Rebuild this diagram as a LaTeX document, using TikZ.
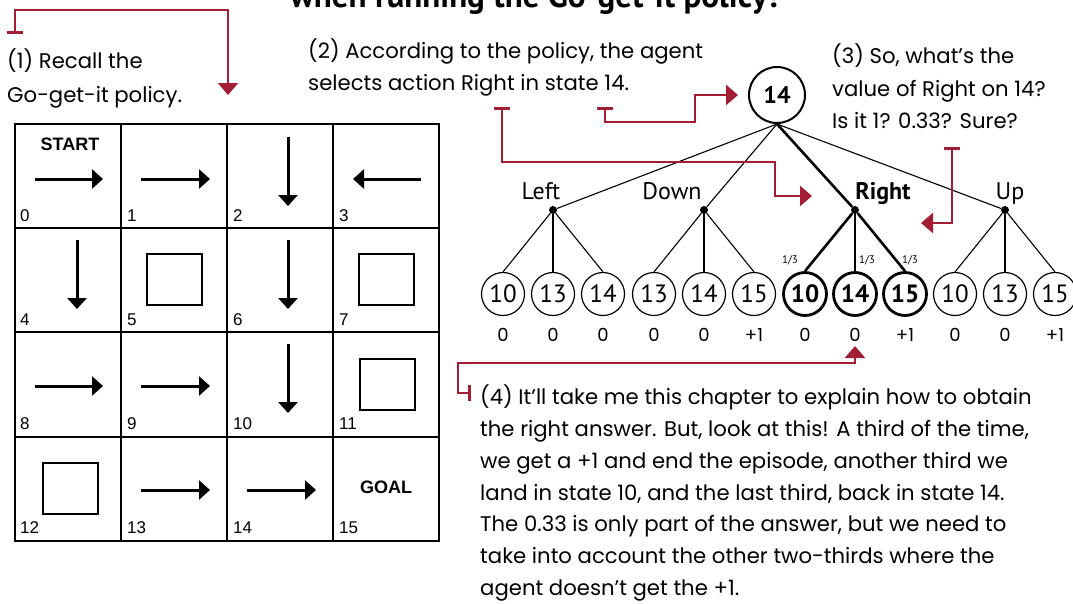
\documentclass[tikz,border=0pt]{standalone}
\usepackage{fontspec}
\setmainfont{Liberation Sans}
\newfontfamily\treefont{PT Sans}
\newfontfamily\handfont{Poppins}
\usetikzlibrary{arrows.meta}
\definecolor{crim}{RGB}{163,29,52}
\begin{document}
\begin{tikzpicture}[x=1pt,y=-1pt,
  gridline/.style={line width=2pt},
  parrow/.style={line width=3pt,-{Triangle[length=11pt,width=19pt]}},
  obst/.style={draw,line width=2pt,minimum width=55pt,minimum height=51pt,inner sep=0pt},
  cellnum/.style={anchor=base west,inner sep=0pt,font=\fontsize{17}{20}\selectfont},
  cellword/.style={inner sep=0pt,font=\bfseries\fontsize{18}{20}\selectfont},
  redarr/.style={draw=crim,line width=2.6pt,{Bar[width=16pt]}-{Triangle[width=20pt,length=12pt]}},
  hand/.style={anchor=base west,inner sep=0pt,font=\handfont\fontsize{21.2}{24}\selectfont},
  rew/.style={anchor=base,inner sep=0pt,font=\handfont\fontsize{18}{20}\selectfont},
  lab/.style={anchor=base,inner sep=0pt,font=\treefont\fontsize{24}{26}\selectfont},
  prob/.style={inner sep=0pt,font=\treefont\fontsize{11}{12}\selectfont},
  adot/.style={circle,fill,inner sep=0pt,minimum size=8pt},
  leaf/.style={circle,draw,line width=1.2pt,minimum size=43pt,inner sep=0pt,font=\treefont\fontsize{25}{26}\selectfont},
  bleaf/.style={circle,draw,line width=2.8pt,minimum size=43pt,inner sep=0pt,font=\treefont\bfseries\fontsize{25}{26}\selectfont},
  rootc/.style={circle,draw,line width=2pt,minimum size=56pt,inner sep=0pt,font=\treefont\bfseries\fontsize{24}{26}\selectfont},
  thinl/.style={line width=1.1pt},
  thickl/.style={line width=2.6pt}
]
\useasboundingbox (0,0) rectangle (1073,603);
\clip (0,0) rectangle (1073,603);

% title (cut off at top)
\node[anchor=base west,inner sep=0pt,font=\treefont\bfseries\fontsize{33}{35}\selectfont] (title) at (290,7) {when running the Go-get-it policy?};

% grid
\draw[gridline] (15,124) rectangle (439,541);
\foreach \x in {121,227,333} \draw[gridline] (\x,124) -- (\x,541);
\foreach \y in {228,332,437} \draw[gridline] (15,\y) -- (439,\y);

% cell numbers
\foreach \n/\x/\y in {0/20/221,1/127/221,2/233/221,3/339/221,
                      4/20/325,5/127/325,6/233/325,7/339/325,
                      8/20/429,9/127/429,10/233/429,11/339/429,
                      12/20/533,13/127/533,14/233/533,15/339/533}
  \node[cellnum] (n\n) at (\x,\y) {\n};

\node[cellword] (start) at (70,144) {START};
\node[cellword] (goal) at (386,487) {GOAL};

% policy arrows
\draw[parrow] (35,179) -- (103,179);
\draw[parrow] (141,179) -- (210,179);
\draw[parrow] (421,179) -- (353,179);
\draw[parrow] (288,137) -- (288,206);
\draw[parrow] (77,240) -- (77,309);
\draw[parrow] (288,240) -- (288,309);
\draw[parrow] (35,386) -- (103,386);
\draw[parrow] (141,386) -- (210,386);
\draw[parrow] (288,344) -- (288,413);
\draw[parrow] (141,490) -- (210,490);
\draw[parrow] (247,490) -- (316,490);

% obstacles
\node[obst] (o5) at (174.5,279.5) {};
\node[obst] (o7) at (386.5,279.5) {};
\node[obst] (o11) at (387,384) {};
\node[obst] (o12) at (70.5,488.5) {};

% tree
\node[rootc] (root) at (777,95) {14};
\foreach \n/\x in {L/553,D/704,R/855,U/1005}
  \node[adot] (a\n) at (\x,210) {};
\node[lab] (labL) at (541,199) {Left};
\node[lab] (labD) at (672,199) {Down};
\node[lab,font=\treefont\bfseries\fontsize{24}{26}\selectfont] (labR) at (883,199) {Right};
\node[lab] (labU) at (1010,199) {Up};

\draw[thinl] (root.south) -- (aL);
\draw[thinl] (root.south) -- (aD);
\draw[thickl] (root.south) -- (aR);
\draw[thinl] (root.south) -- (aU);

\foreach \n/\x/\t in {1/503/10,2/553/13,3/603/14,4/654/13,5/704/14,6/754/15,10/955/10,11/1005/13,12/1055/15}
  \node[leaf] (l\n) at (\x,294) {\t};
\foreach \n/\x/\t in {7/805/10,8/855/14,9/905/15}
  \node[bleaf] (l\n) at (\x,294) {\t};

\foreach \n/\x/\r in {1/503/0,2/553/0,3/603/0,4/654/0,5/704/0,6/754/+1,7/805/0,8/855/0,9/905/+1,10/955/0,11/1005/0,12/1055/+1}
  \node[rew] (r\n) at (\x,341) {\r};

\foreach \a/\i in {L/1,L/2,L/3,D/4,D/5,D/6,U/10,U/11,U/12}
  \draw[thinl] (a\a) -- (l\i.north);
\foreach \i in {7,8,9}
  \draw[thickl] (aR) -- (l\i.north);

\node[prob] (p7) at (790,260) {1/3};
\node[prob] (p8) at (867,260) {1/3};
\node[prob] (p9) at (910,260) {1/3};

% annotations
\node[hand] (t1a) at (7,68) {(1) Recall the};
\node[hand] (t1b) at (7,102) {Go-get-it policy.};
\node[hand] (t2a) at (308,58) {(2) According to the policy, the agent};
\node[hand] (t2b) at (308,90) {selects action Right in state 14.};
\node[hand] (t3a) at (832,63) {(3) So, what’s the};
\node[hand] (t3b) at (832,96) {value of Right on 14?};
\node[hand] (t3c) at (832,128) {Is it 1? 0.33? Sure?};
\foreach \i/\y/\s in {1/404/{(4) It’ll take me this chapter to explain how to obtain},
  2/436/{the right answer. But, look at this! A third of the time,},
  3/468/{we get a +1 and end the episode, another third we},
  4/500/{land in state 10, and the last third, back in state 14.},
  5/531/{The 0.33 is only part of the answer, but we need to},
  6/563/{take into account the other two-thirds where the},
  7/595/{agent doesn’t get the +1.}}
  \node[hand] (t4\i) at (480,\y) {\s};

% red connectors
\coordinate (b1) at (15,34);
\coordinate (e1) at (228,95);
\draw[redarr] (b1) -- (15,10) -| (e1);
\coordinate (b2a) at (605,107);
\draw[redarr] (b2a) |- (695,122) |- ([xshift=-10pt]root.west);
\coordinate (b2b) at (502,107);
\coordinate (e2b) at (812,196);
\draw[redarr] (b2b) |- (775,162) |- (e2b);
\coordinate (b3) at (952,147);
\coordinate (e3) at (921,223);
\draw[redarr] (b3) |- (e3);
\coordinate (b4) at (471,393);
\coordinate (e4) at (855,346);
\draw[redarr] (b4) -| (458,363) -| (e4);
\end{tikzpicture}
\end{document}
